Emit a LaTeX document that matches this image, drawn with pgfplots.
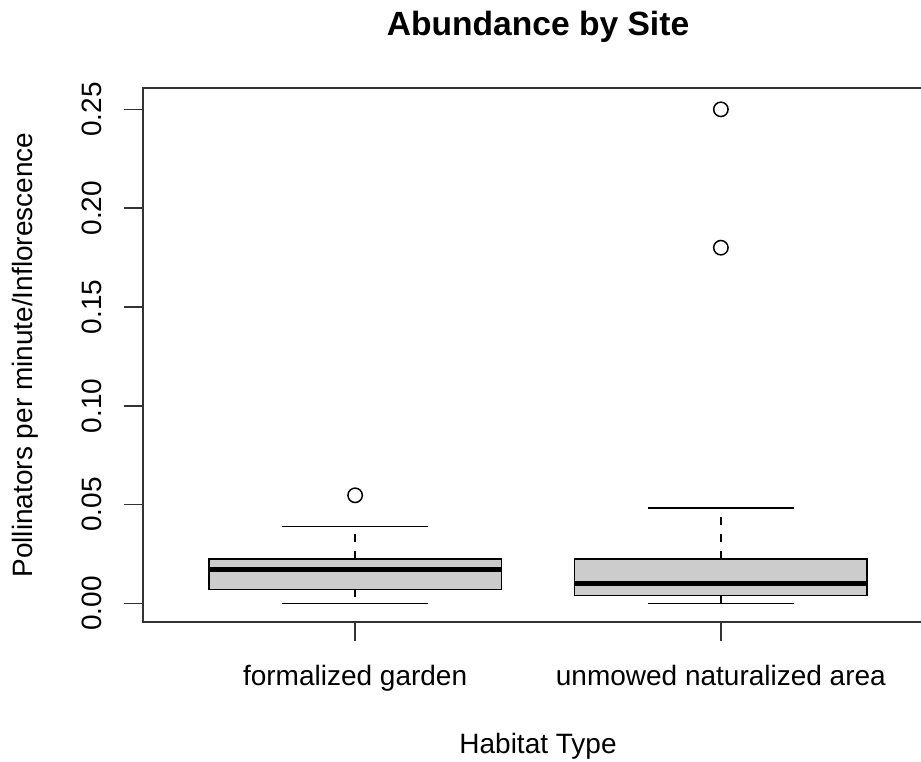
\documentclass[border=0pt]{standalone}
\usepackage{fontspec}
\setmainfont{Liberation Sans}
\usepackage{pgfplots}
\pgfplotsset{compat=1.18}
\usepgfplotslibrary{statistics}

\definecolor{boxfill}{RGB}{204,204,204}
\newcommand{\lbl}{\fontsize{14}{16}\selectfont}

% R-style whiskers: dashed stem, solid cap
\pgfplotsset{
  rwhiskers/.style={
    boxplot/draw/lower whisker/.code={%
      \draw[line width=0.75pt, dash pattern=on 4pt off 4.5pt]
        (boxplot box cs:\pgfplotsboxplotvalue{lower quartile},0.5) --
        (boxplot box cs:\pgfplotsboxplotvalue{lower whisker},0.5);
      \draw[line width=0.75pt]
        (boxplot whisker cs:\pgfplotsboxplotvalue{lower whisker},0) --
        (boxplot whisker cs:\pgfplotsboxplotvalue{lower whisker},1);
    },
    boxplot/draw/upper whisker/.code={%
      \draw[line width=0.75pt, dash pattern=on 4pt off 4.5pt]
        (boxplot box cs:\pgfplotsboxplotvalue{upper quartile},0.5) --
        (boxplot box cs:\pgfplotsboxplotvalue{upper whisker},0.5);
      \draw[line width=0.75pt]
        (boxplot whisker cs:\pgfplotsboxplotvalue{upper whisker},0) --
        (boxplot whisker cs:\pgfplotsboxplotvalue{upper whisker},1);
    },
  },
}

\begin{document}
\begin{tikzpicture}
\begin{axis}[
  at={(0,0)}, anchor=south west,
  scale only axis, width=395pt, height=267pt,
  xmin=0.42, xmax=2.58, ymin=-0.0094, ymax=0.2608,
  axis line style={line width=0.75pt, black!80},
  tick style={line width=0.75pt, black!80},
  tick align=outside, major tick length=9.5pt,
  xtick pos=bottom, ytick pos=left,
  xtick={1,2},
  xticklabels={formalized garden, unmowed naturalized area},
  ytick={0,0.05,0.1,0.15,0.2,0.25},
  yticklabels={0.00,0.05,0.10,0.15,0.20,0.25},
  xticklabel style={font=\lbl, anchor=base, yshift=-22pt},
  yticklabel style={font=\lbl, xshift=-11pt, rotate=90, anchor=base},
  title={Abundance by Site},
  title style={font=\fontsize{16.8}{20}\selectfont\bfseries,
    at={(axis description cs:0.5,1)}, anchor=base, yshift=20pt},
  xlabel={Habitat Type},
  xlabel style={font=\lbl, at={(axis description cs:0.5,0)},
    anchor=base, yshift=-65.5pt},
  ylabel={Pollinators per minute/Inflorescence},
  ylabel style={font=\lbl, at={([xshift=-55pt]axis description cs:0,0.5)},
    rotate=0, anchor=base},
  rwhiskers,
  boxplot/draw direction=y,
  boxplot/box extend=0.8,
  boxplot/whisker extend=0.4,
  boxplot/every box/.style={fill=boxfill, draw=black, line width=0.75pt},
  boxplot/every median/.style={line width=2.4pt, black},
]
\addplot[black, mark=o, mark size=3.6pt, mark options={line width=0.75pt},
  boxplot prepared={draw position=1,
    lower whisker=0, lower quartile=0.0071, median=0.0172,
    upper quartile=0.0226, upper whisker=0.039}]
  coordinates {(1,0.0547)};

\addplot[black, mark=o, mark size=3.6pt, mark options={line width=0.75pt},
  boxplot prepared={draw position=2,
    lower whisker=0, lower quartile=0.004, median=0.0101,
    upper quartile=0.0226, upper whisker=0.0484}]
  coordinates {(2,0.18) (2,0.25)};
\end{axis}
\pgfresetboundingbox
\path[use as bounding box] (-71.5pt,-69.5pt) rectangle (389pt,311pt);
\end{tikzpicture}
\end{document}
